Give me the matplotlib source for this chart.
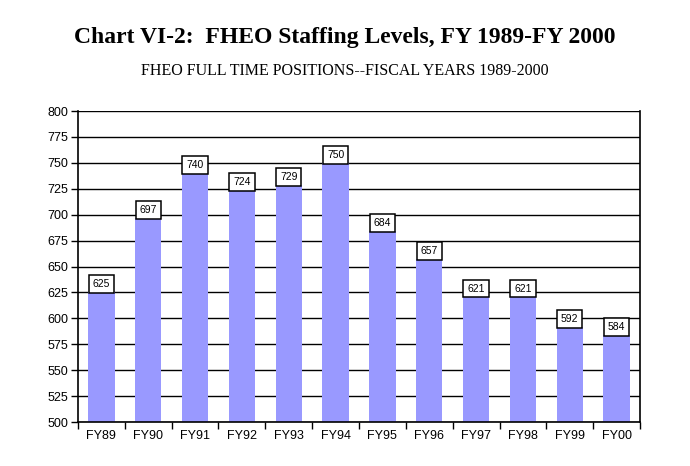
import matplotlib
matplotlib.use("Agg")
import matplotlib.pyplot as plt
import numpy as np

categories = ["FY89", "FY90", "FY91", "FY92", "FY93", "FY94", "FY95", "FY96", "FY97", "FY98", "FY99", "FY00"]
values = [625, 697, 740, 724, 729, 750, 684, 657, 621, 621, 592, 584]
yticks = list(range(500, 801, 25))

fig = plt.figure(figsize=(6.9, 4.66), dpi=100)
ax = fig.add_axes([78/690, 1-422/466, (640-78)/690, (422-111)/466])

x = np.arange(len(categories))
ax.bar(x, values, width=0.56, color="#9999FF", zorder=2)
ax.set_xlim(-0.5, len(categories)-0.5)
ax.set_ylim(500, 800)
ax.set_yticks(yticks)
ax.set_yticklabels([str(t) for t in yticks], fontsize=9, family="Liberation Sans")
ax.yaxis.grid(True, color="black", linewidth=1, zorder=1)
ax.set_axisbelow(True)
ax.set_xticks(x)
ax.set_xticklabels(categories, fontsize=9, family="Liberation Sans")
ax.set_xticks(np.arange(-0.5, len(categories)), minor=True)
ax.tick_params(axis="x", which="major", length=0, pad=6)
ax.tick_params(axis="x", which="minor", length=5, width=1, color="black", direction="out")
ax.tick_params(axis="y", length=5, width=1, direction="out", pad=2)
for s in ["left", "bottom", "right"]:
    ax.spines[s].set_linewidth(1.2)
    ax.spines[s].set_color("black")
ax.spines["top"].set_visible(False)

for xi, v in zip(x, values):
    ax.annotate(str(v), (xi, v), xytext=(0, 2.2), textcoords="offset points",
                ha="center", va="bottom", fontsize=7.5, family="Liberation Sans",
                bbox=dict(boxstyle="square,pad=0.38", facecolor="white", edgecolor="black", linewidth=1.1),
                zorder=3)

fig.text(0.5, 1-38/466, "Chart VI-2:  FHEO Staffing Levels, FY 1989-FY 2000", ha="center", va="center",
         fontsize=17, fontweight="bold", family="Liberation Serif")
fig.text(0.5, 1-71/466, "FHEO FULL TIME POSITIONS--FISCAL YEARS 1989-2000", ha="center", va="center",
         fontsize=11.5, family="Liberation Serif")

fig.savefig("out.png", dpi=100)
